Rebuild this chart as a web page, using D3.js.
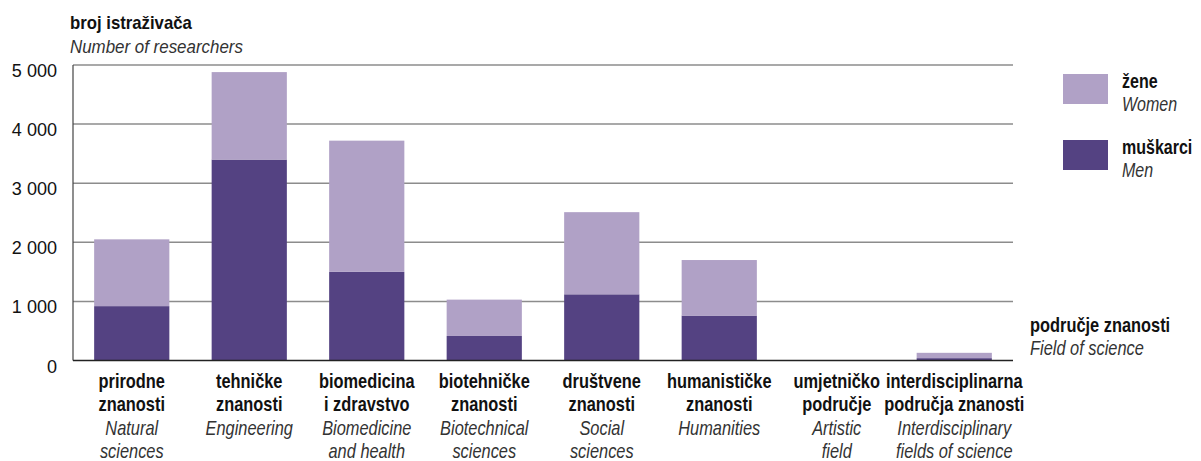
<!DOCTYPE html>
<html>
<head>
<meta charset="utf-8">
<script src="https://cdn.jsdelivr.net/npm/d3@7"></script>
<style>
  html, body { margin: 0; padding: 0; background: #fff; }
  svg { display: block; }
  text { font-family: "Liberation Sans", Arial, sans-serif; }
</style>
</head>
<body>
<svg id="chart" width="1201" height="461"></svg>
<script>
const categories = ["prirodne", "tehničke", "biomedicina", "biotehničke", "društvene", "humanističke", "umjetničko", "interdisciplinarna"];
const labelsHr = [
  ["prirodne", "znanosti"],
  ["tehničke", "znanosti"],
  ["biomedicina", "i zdravstvo"],
  ["biotehničke", "znanosti"],
  ["društvene", "znanosti"],
  ["humanističke", "znanosti"],
  ["umjetničko", "područje"],
  ["interdisciplinarna", "područja znanosti"]
];
const labelsEn = [
  ["Natural", "sciences"],
  ["Engineering"],
  ["Biomedicine", "and health"],
  ["Biotechnical", "sciences"],
  ["Social", "sciences"],
  ["Humanities"],
  ["Artistic", "field"],
  ["Interdisciplinary", "fields of science"]
];
const men   = [920, 3400, 1500, 415, 1120, 760, 0, 40];
const women = [1130, 1480, 2220, 615, 1390, 940, 0, 90];
const yTicks = [0, 1000, 2000, 3000, 4000, 5000];
const yTickLabels = ["0", "1 000", "2 000", "3 000", "4 000", "5 000"];
const seriesKeys = ["men", "women"];
const seriesHr = ["muškarci", "žene"];
const seriesEn = ["Men", "Women"];

const colors = { men: "#544282", women: "#b0a1c6" };

const svg = d3.select("#chart");
const margin = { left: 73, right: 188 };
const W = 1201;
const x = d3.scaleBand().domain(categories).range([margin.left, W - margin.right]).paddingInner(0.36).paddingOuter(0.18);
const y = d3.scaleLinear().domain([0, 5000]).range([360.5, 65]);

const rows = categories.map((c, i) => ({ cat: c, men: men[i], women: women[i] }));
const stacked = d3.stack().keys(seriesKeys)(rows);

// condensed text helper (no condensed font installed -> horizontal scale)
function ctext(parent, px, py, str, o) {
  const g = parent.append("g").attr("transform", `translate(${px},${py}) scale(${o.sx || 0.82},1)`);
  g.append("text").attr("x", 0).attr("y", 0)
    .attr("text-anchor", o.anchor || "start")
    .attr("font-size", o.size || 20)
    .attr("font-weight", o.bold ? "bold" : "normal")
    .attr("font-style", o.italic ? "italic" : "normal")
    .attr("fill", o.fill || "#111")
    .text(str);
  return g;
}

// gridlines
svg.append("g").selectAll("line").data(yTicks.filter(t => t > 0)).join("line")
  .attr("x1", margin.left).attr("x2", W - margin.right)
  .attr("y1", d => y(d)).attr("y2", d => y(d))
  .attr("stroke", "#8c8c8c").attr("stroke-width", 1.5);

// bars
svg.append("g").selectAll("g").data(stacked).join("g")
  .attr("fill", d => colors[d.key])
  .selectAll("rect").data(d => d).join("rect")
  .attr("x", d => x(d.data.cat))
  .attr("width", x.bandwidth())
  .attr("y", d => y(d[1]))
  .attr("height", d => Math.max(0, y(d[0]) - y(d[1])));

// y axis line
svg.append("line").attr("x1", margin.left).attr("x2", margin.left)
  .attr("y1", y(5000)).attr("y2", y(0)).attr("stroke", "#444").attr("stroke-width", 1.2);
// baseline
svg.append("line").attr("x1", margin.left).attr("x2", W - margin.right)
  .attr("y1", y(0)).attr("y2", y(0)).attr("stroke", "#222").attr("stroke-width", 1.6);

// y tick labels
const tickG = svg.append("g");
yTicks.forEach((t, i) => ctext(tickG, 57, y(t) + 12, yTickLabels[i], { anchor: "end", size: 19, sx: 0.95 }));

// y axis title
ctext(svg, 70, 28.5, "broj istraživača", { bold: true, size: 18, sx: 0.93 });
ctext(svg, 70, 52.5, "Number of researchers", { italic: true, size: 18, sx: 0.94, fill: "#333" });

// x labels
const lineY = [387.5, 411, 434.5, 458];
const xg = svg.append("g");
categories.forEach((c, i) => {
  const cx = x(c) + x.bandwidth() / 2;
  let k = 0;
  labelsHr[i].forEach(s => ctext(xg, cx, lineY[k++], s, { anchor: "middle", bold: true }));
  labelsEn[i].forEach(s => ctext(xg, cx, lineY[k++], s, { anchor: "middle", italic: true, fill: "#333" }));
});

// x axis title
ctext(svg, 1030, 332, "područje znanosti", { bold: true });
ctext(svg, 1030, 355, "Field of science", { italic: true, fill: "#333" });

// legend (women on top)
const legendOrder = [1, 0];
legendOrder.forEach((d, i) => {
  const gy = 74 + i * 66;
  svg.append("rect").attr("x", 1063).attr("y", gy).attr("width", 45).attr("height", 30)
    .attr("fill", colors[seriesKeys[d]]);
  ctext(svg, 1122, gy + 13.5, seriesHr[d], { bold: true, sx: 0.8 });
  ctext(svg, 1122, gy + 36.5, seriesEn[d], { italic: true, sx: 0.8, fill: "#333" });
});
</script>
</body>
</html>
